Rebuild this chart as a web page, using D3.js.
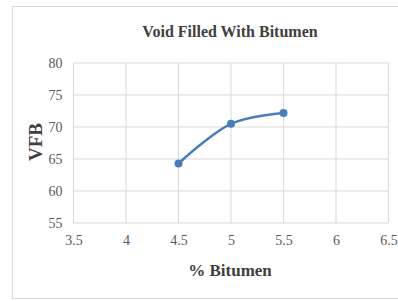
<!DOCTYPE html>
<html>
<head>
  <meta charset="utf-8">
  <title>VFB</title>
  <script src="https://d3js.org/d3.v7.min.js"></script>
  <style>
    body { margin: 0; padding: 0; background: #fff; }
    .title { font-family: "Liberation Serif", serif; font-weight: bold; fill: #404040; }
  </style>
</head>
<body>
  <div id="chart"></div>
  <script>
    // data
    var bitumen = [4.5, 5, 5.5];
    var vfb = [64.3, 70.5, 72.2];
    var xTicks = [3.5, 4, 4.5, 5, 5.5, 6, 6.5];
    var yTicks = [55, 60, 65, 70, 75, 80];

    var width = 398, height = 301;
    var margin = { left: 73.5, right: 9.5, top: 63, bottom: 78 };

    var svg = d3.select("#chart").append("svg")
      .attr("width", width)
      .attr("height", height);

    // outer frame
    svg.append("rect")
      .attr("x", 12.5).attr("y", 6.5)
      .attr("width", 400).attr("height", 292)
      .attr("fill", "none").attr("stroke", "#d9d9d9");

    var x = d3.scaleLinear().domain([3.5, 6.5]).range([margin.left, width - margin.right]);
    var y = d3.scaleLinear().domain([55, 80]).range([height - margin.bottom, margin.top]);

    // gridlines
    svg.append("g").selectAll("line").data(xTicks).enter().append("line")
      .attr("x1", function(d) { return x(d); }).attr("x2", function(d) { return x(d); })
      .attr("y1", y(55)).attr("y2", y(80))
      .attr("stroke", "#d9d9d9");
    svg.append("g").selectAll("line").data(yTicks).enter().append("line")
      .attr("x1", x(3.5)).attr("x2", x(6.5))
      .attr("y1", function(d) { return y(d); }).attr("y2", function(d) { return y(d); })
      .attr("stroke", "#d9d9d9");

    // axes (labels only)
    var xAxis = svg.append("g")
      .attr("transform", "translate(0," + y(55) + ")")
      .call(d3.axisBottom(x).tickValues(xTicks).tickSize(0).tickPadding(12).tickFormat(d3.format("")));
    xAxis.select(".domain").remove();

    var yAxis = svg.append("g")
      .attr("transform", "translate(" + x(3.5) + ",0)")
      .call(d3.axisLeft(y).tickValues(yTicks).tickSize(0).tickPadding(11));
    yAxis.select(".domain").remove();

    svg.selectAll(".tick text")
      .style("font-family", '"Liberation Serif", "Times New Roman", serif')
      .style("font-size", "14px")
      .style("fill", "#595959");

    // smoothed line
    var pts = bitumen.map(function(d, i) { return [d, vfb[i]]; });
    var line = d3.line()
      .x(function(d) { return x(d[0]); })
      .y(function(d) { return y(d[1]); })
      .curve(d3.curveCatmullRom.alpha(0.5));

    svg.append("path")
      .datum(pts)
      .attr("d", line)
      .attr("fill", "none")
      .attr("stroke", "#4a7ebb")
      .attr("stroke-width", 2.5);

    svg.append("g").selectAll("circle").data(pts).enter().append("circle")
      .attr("cx", function(d) { return x(d[0]); })
      .attr("cy", function(d) { return y(d[1]); })
      .attr("r", 4)
      .attr("fill", "#4a7ebb");

    // titles
    svg.append("text").attr("class", "title")
      .attr("x", 230).attr("y", 37)
      .attr("text-anchor", "middle").attr("font-size", 16)
      .text("Void Filled With Bitumen");

    svg.append("text").attr("class", "title")
      .attr("x", 230).attr("y", 276)
      .attr("text-anchor", "middle").attr("font-size", 17)
      .text("% Bitumen");

    svg.append("text").attr("class", "title")
      .attr("transform", "translate(42,142) rotate(-90)")
      .attr("text-anchor", "middle").attr("font-size", 19)
      .text("VFB");
  </script>
</body>
</html>
